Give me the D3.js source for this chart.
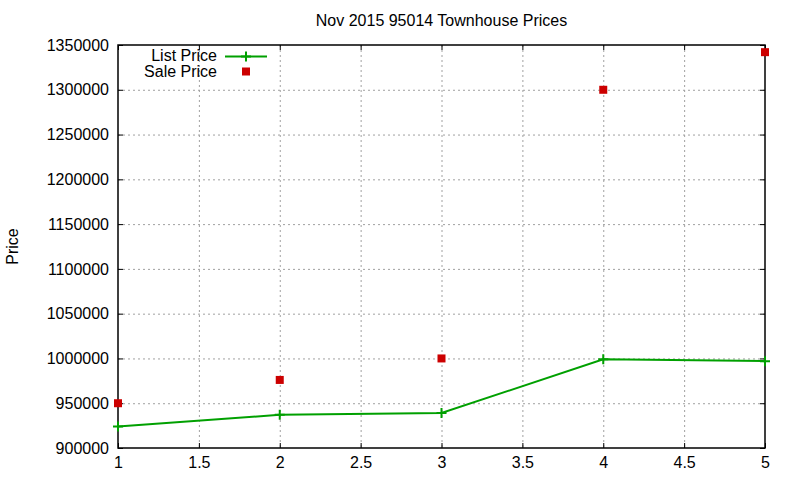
<!DOCTYPE html>
<html>
<head>
<meta charset="utf-8">
<script src="https://cdn.jsdelivr.net/npm/d3@7"></script>
<style>
  body { margin: 0; background: #fff; }
  svg { font-family: "Liberation Sans", Arial, sans-serif; }
</style>
</head>
<body>
<div id="chart-area"></div>
<script>
// Datos
const listX = [1, 2, 3, 4, 5];
const listPrice = [924000, 937000, 939000, 999000, 997000];
const saleX = [1, 2, 3, 4, 5];
const salePrice = [950000, 976000, 1000000, 1300000, 1342000];
const xTicks = [1, 1.5, 2, 2.5, 3, 3.5, 4, 4.5, 5];
const yTicks = [900000, 950000, 1000000, 1050000, 1100000, 1150000, 1200000, 1250000, 1300000, 1350000];

const W = 800, H = 480;
const pLeft = 118, pRight = 765, pTop = 45, pBottom = 448;
const fs = 16;

const svg = d3.select("#chart-area")
    .append("svg")
    .attr("width", W)
    .attr("height", H);

// Escalas
const x = d3.scaleLinear().domain([1, 5]).range([pLeft, pRight]);
const y = d3.scaleLinear().domain([900000, 1350000]).range([pBottom, pTop]);

const gridColor = "#a0a0a0";

// Rejilla
svg.append("g").selectAll("line")
    .data(xTicks.slice(1, -1))
    .enter().append("line")
    .attr("x1", d => x(d) + 0.5).attr("x2", d => x(d) + 0.5)
    .attr("y1", pTop).attr("y2", pBottom)
    .attr("stroke", gridColor).attr("stroke-dasharray", "2,3");

svg.append("g").selectAll("line")
    .data(yTicks.slice(1, -1))
    .enter().append("line")
    .attr("x1", pLeft).attr("x2", pRight)
    .attr("y1", d => y(d) + 0.5).attr("y2", d => y(d) + 0.5)
    .attr("stroke", gridColor).attr("stroke-dasharray", "2,3");

// Ejes (ticks hacia dentro, espejo en los cuatro lados)
const axisBottom = d3.axisBottom(x).tickValues(xTicks).tickSize(-5).tickPadding(9).tickFormat(d3.format("~g"));
const axisTop = d3.axisTop(x).tickValues(xTicks).tickSize(-5).tickFormat("");
const axisLeft = d3.axisLeft(y).tickValues(yTicks).tickSize(-5).tickPadding(9).tickFormat(d3.format("d"));
const axisRight = d3.axisRight(y).tickValues(yTicks).tickSize(-5).tickFormat("");

function styleAxis(g) {
    g.select(".domain").remove();
    g.selectAll("line").attr("stroke", "#000");
    g.selectAll("text").attr("font-size", fs).attr("fill", "#000")
        .attr("font-family", "Liberation Sans, Arial, sans-serif");
}

svg.append("g").attr("transform", `translate(0,${pBottom})`).call(axisBottom).call(styleAxis);
svg.append("g").attr("transform", `translate(0,${pTop})`).call(axisTop).call(styleAxis);
svg.append("g").attr("transform", `translate(${pLeft},0)`).call(axisLeft).call(styleAxis);
svg.append("g").attr("transform", `translate(${pRight},0)`).call(axisRight).call(styleAxis);

// Marco
svg.append("rect")
    .attr("x", pLeft).attr("y", pTop)
    .attr("width", pRight - pLeft).attr("height", pBottom - pTop)
    .attr("fill", "none").attr("stroke", "#000").attr("stroke-width", 1.5);

const green = "#00a000", red = "#cc0000";

// Línea List Price
const listData = listX.map((d, i) => ({ x: d, y: listPrice[i] }));
svg.append("path")
    .datum(listData)
    .attr("fill", "none").attr("stroke", green).attr("stroke-width", 2)
    .attr("d", d3.line().x(d => x(d.x)).y(d => y(d.y)));

svg.append("g").selectAll("path")
    .data(listData)
    .enter().append("path")
    .attr("transform", d => `translate(${x(d.x)},${y(d.y)})`)
    .attr("d", "M-5,0H5M0,-5V5")
    .attr("stroke", green).attr("stroke-width", 2);

// Puntos Sale Price
const saleData = saleX.map((d, i) => ({ x: d, y: salePrice[i] }));
svg.append("g").selectAll("rect")
    .data(saleData)
    .enter().append("rect")
    .attr("x", d => x(d.x) - 4).attr("y", d => y(d.y) - 4)
    .attr("width", 8).attr("height", 8)
    .attr("fill", red);

// Título y etiqueta
svg.append("text")
    .attr("x", (pLeft + pRight) / 2 + 0).attr("y", 26)
    .attr("text-anchor", "middle").attr("font-size", fs)
    .text("Nov 2015 95014 Townhouse Prices");

svg.append("text")
    .attr("transform", `translate(18,${(pTop + pBottom) / 2}) rotate(-90)`)
    .attr("text-anchor", "middle").attr("font-size", fs)
    .text("Price");

// Leyenda
const legend = svg.append("g");
legend.append("text").attr("x", 217).attr("y", 61).attr("text-anchor", "end")
    .attr("font-size", fs).text("List Price");
legend.append("line").attr("x1", 225).attr("x2", 267).attr("y1", 56.5).attr("y2", 56.5)
    .attr("stroke", green).attr("stroke-width", 2);
legend.append("path").attr("transform", "translate(246,56.5)").attr("d", "M-5,0H5M0,-5V5")
    .attr("stroke", green).attr("stroke-width", 2);
legend.append("text").attr("x", 217).attr("y", 77).attr("text-anchor", "end")
    .attr("font-size", fs).text("Sale Price");
legend.append("rect").attr("x", 242).attr("y", 67.5).attr("width", 8).attr("height", 8)
    .attr("fill", red);
</script>
</body>
</html>
